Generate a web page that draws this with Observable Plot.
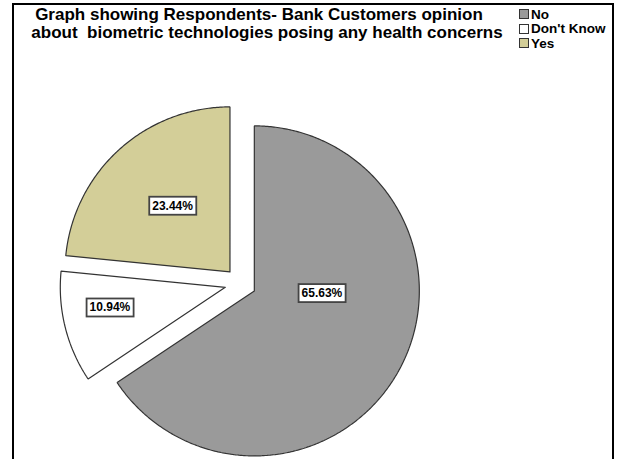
<!DOCTYPE html>
<html><head><meta charset="utf-8">
<script src="https://cdn.jsdelivr.net/npm/d3@7"></script>
<script src="https://cdn.jsdelivr.net/npm/@observablehq/plot@0.6"></script>
<style>
body{margin:0;background:#fff;font-family:Arial,"Liberation Sans",sans-serif;}
#wrap{position:relative;width:617px;height:459px;overflow:hidden;background:#fff;}
#frame{position:absolute;left:12px;top:3px;width:598px;height:520px;border:2px solid #000;border-bottom:none;}
#chart{position:absolute;left:0;top:0;}
.tl{position:absolute;left:14px;width:506px;text-align:center;font-weight:bold;font-size:17px;line-height:17px;color:#000;white-space:pre;}
#t1{top:6px;padding-right:16px;width:490px;}
#t2{top:23.5px;}
#legend{position:absolute;left:519px;top:7px;font-weight:bold;font-size:13.5px;color:#000;}
.row{display:flex;align-items:center;height:14.5px;}
.sw{width:8px;height:8px;border:1px solid #333;margin-right:2px;}
</style></head>
<body>
<div id="wrap"><div id="frame"></div><div id="chart"></div>
<div class="tl" id="t1">Graph showing Respondents- Bank Customers opinion</div>
<div class="tl" id="t2">about  biometric technologies posing any health concerns</div>
<div id="legend"></div></div>
<script>
const categories = ["No", "Don't Know", "Yes"];
const percents = [65.63, 10.94, 23.44];
const labels = ["65.63%", "10.94%", "23.44%"];
const colors = ["#9a9a9a", "#ffffff", "#d3ce98"];

// layout (not data)
const W = 617, H = 459, R = 165, CX = 240, CY = 283, EXPLODE = 0.095;
const labelPolar = [[0.41, 92], [0.71, 260], [0.53, 319]];

const arcs = d3.pie().sort(null).value(d => d)(percents);
const pts = [];
const labelData = [];
arcs.forEach((p, i) => {
  const mid = (p.startAngle + p.endAngle) / 2;
  const ox = EXPLODE * Math.sin(mid), oy = EXPLODE * Math.cos(mid);
  const cat = categories[i];
  pts.push({cat, x: ox, y: oy});
  const n = Math.max(2, Math.ceil((p.endAngle - p.startAngle) / 0.01));
  for (let k = 0; k <= n; k++) {
    const a = p.startAngle + (p.endAngle - p.startAngle) * k / n;
    pts.push({cat, x: ox + Math.sin(a), y: oy + Math.cos(a)});
  }
  pts.push({cat, x: ox, y: oy});
  const [lr, la] = labelPolar[i];
  const a = la * Math.PI / 180;
  labelData.push({x: ox + lr * Math.sin(a), y: oy + lr * Math.cos(a), text: labels[i]});
});

const svg = Plot.plot({
  width: W, height: H, margin: 0,
  x: {domain: [-CX / R, (W - CX) / R], axis: null},
  y: {domain: [-(H - CY) / R, CY / R], axis: null},
  style: {background: "transparent", fontFamily: "Arial, 'Liberation Sans', sans-serif"},
  marks: [
    ...categories.map((c, i) => Plot.line(pts.filter(d => d.cat === c), {
      x: "x", y: "y", fill: colors[i], stroke: "#333", strokeWidth: 1.2, strokeLinejoin: "miter"
    })),
    Plot.text(labelData, {x: "x", y: "y", text: "text", fontSize: 12, fontWeight: "bold", fill: "#000"})
  ]
});
document.getElementById("chart").appendChild(svg);

// boxes behind value labels
svg.querySelectorAll('g[aria-label="text"] text').forEach(t => {
  const b = t.getBBox();
  const r = document.createElementNS("http://www.w3.org/2000/svg", "rect");
  r.setAttribute("x", b.x - 3); r.setAttribute("y", b.y - 2);
  r.setAttribute("width", b.width + 6); r.setAttribute("height", b.height + 4);
  r.setAttribute("fill", "#fff"); r.setAttribute("stroke", "#444"); r.setAttribute("stroke-width", 1.8);
  const tr = t.getAttribute("transform");
  if (tr) r.setAttribute("transform", tr);
  t.parentNode.insertBefore(r, t);
});

const legend = document.getElementById("legend");
categories.forEach((c, i) => {
  const row = document.createElement("div"); row.className = "row";
  const sw = document.createElement("div"); sw.className = "sw"; sw.style.background = colors[i];
  const tx = document.createElement("span"); tx.textContent = c;
  row.appendChild(sw); row.appendChild(tx); legend.appendChild(row);
});
</script>
</body></html>
